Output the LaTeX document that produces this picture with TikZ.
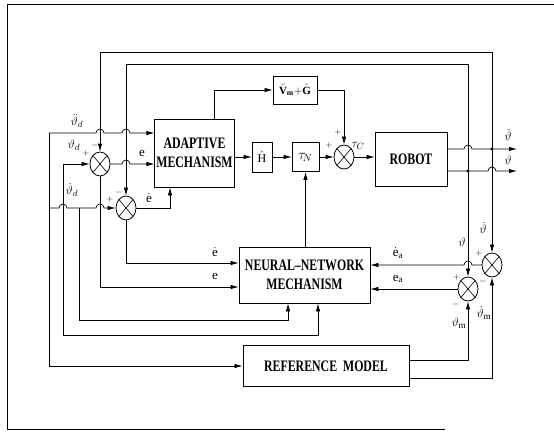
\documentclass[tikz,border=0pt]{standalone}
\usepackage{amsmath, amssymb}
\usepackage{fontspec}
\setmainfont{Liberation Serif}
\newfontfamily\boxfont[FakeStretch=0.74, Ligatures=TeX]{Liberation Serif}
\usepackage{tikz}
\usetikzlibrary{
  arrows.meta,
  positioning,
  shapes.geometric,
  calc
}

\begin{document}
\begin{tikzpicture}[
  x=1pt, y=-1pt,
  line width=0.7pt,
  sig/.style={-{Latex[length=8pt, width=4.4pt]}},
  blk/.style={
    draw, line width=0.9pt, inner sep=1.5pt, align=center,
    font=\boxfont\bfseries\fontsize{16}{19}\selectfont
  },
  sumj/.style={
    draw, ellipse, line width=0.8pt,
    minimum width=20pt, minimum height=24pt, inner sep=0pt,
    path picture={
      \draw[line width=0.6pt]
        ($(path picture bounding box.center)!0.707!(path picture bounding box.north west)$) --
        ($(path picture bounding box.center)!0.707!(path picture bounding box.south east)$)
        ($(path picture bounding box.center)!0.707!(path picture bounding box.north east)$) --
        ($(path picture bounding box.center)!0.707!(path picture bounding box.south west)$);
    }
  },
  lbl/.style={inner sep=0pt, font=\fontsize{13}{15}\selectfont},
  sgn/.style={inner sep=0pt, font=\footnotesize}
]
  \useasboundingbox (0,0) rectangle (554,433);
  \draw[line width=0.6pt] (554,4) -- (7,4) -- (7,429) -- (445,429);

  \node[blk, minimum width=77, minimum height=68] (adapt) at (194.5,153) {ADAPTIVE\\MECHANISM};
  \node[blk, minimum width=44, minimum height=28, font=\bfseries\fontsize{11}{13}\selectfont] (vg) at (295,90)
    {$\hat{\mathbf{V}}_{\mathbf{m}}\mathbf{+}\hat{\mathbf{G}}$};
  \node[blk, minimum width=20, minimum height=30, font=\fontsize{12}{14}\selectfont] (H) at (262,157) {$\hat{\mathrm{H}}$};
  \node[blk, minimum width=27, minimum height=29, font=\fontsize{14}{16}\selectfont] (tauN) at (305.5,157) {$\tau_{\!N}$};
  \node[blk, minimum width=72, minimum height=54] (robot) at (411,159) {ROBOT};
  \node[blk, minimum width=131, minimum height=56] (nn) at (304.5,275) {NEURAL\textendash NETWORK\\MECHANISM};
  \node[blk, minimum width=166, minimum height=41] (ref) at (326,366) {REFERENCE\ \ MODEL};

  \node[sumj] (j1) at (100,164) {};
  \node[sumj] (j2) at (126,208) {};
  \node[sumj] (j5) at (344,157) {};
  \node[sumj] (j3) at (468,289) {};
  \node[sumj] (j4) at (492,265) {};

  \coordinate (pdot) at (492,149);
  \coordinate (qdot) at (468,171);
  \coordinate (outd) at (517,149);
  \coordinate (outq) at (517,171);
  \coordinate (topj1) at (100,52);
  \coordinate (topj2) at (126,64);
  \coordinate (ddd) at (49,133);
  \coordinate (dd) at (63,164);
  \coordinate (dv) at (49,208);
  \coordinate (dvb) at (79,208);
  \coordinate (rowA) at (79,320);
  \coordinate (rowB) at (63,335);
  \coordinate (erow) at (100,287);
  \coordinate (edrow) at (126,263);
  \coordinate (ecor) at (170,208);
  \coordinate (aup) at (214,89);
  \coordinate (rm1) at (409,360);
  \coordinate (rm2) at (409,378);
  \coordinate (nnin1) at ($(nn.south)+(-16.5,0)$);
  \coordinate (nnin2) at ($(nn.south)+(13.5,0)$);

  \draw[sig] (robot.east |- pdot) -- ($(qdot |- pdot)+(-4,0)$) arc[start angle=180, end angle=360, radius=4] -- (outd);
  \draw[sig] (robot.east |- qdot) -- ($(pdot |- qdot)+(-4,0)$) arc[start angle=180, end angle=360, radius=4] -- (outq);
  \fill (pdot) circle (1.6);
  \fill (qdot) circle (1.6);

  \draw[sig] (pdot) -- (pdot |- topj1) -- (topj1) -- (j1);
  \draw[sig] (qdot) -- (qdot |- topj2) -- (topj2) -- (j2);
  \draw[sig] (pdot) -- (j4);
  \draw[sig] (qdot) -- (j3);

  \draw[sig] (ddd) -- ($(j1 |- ddd)+(-4,0)$) arc[start angle=180, end angle=360, radius=4]
    -- ($(j2 |- ddd)+(-4,0)$) arc[start angle=180, end angle=360, radius=4] -- (adapt.west |- ddd);
  \draw[sig] (ddd) -- (ddd |- ref.west) -- (ref.west);

  \draw[sig] (dd) -- (j1);
  \draw[sig] (dd) -- (rowB) -- (nnin2 |- rowB) -- (nnin2);

  \draw[sig] (dv) -- ($(dd |- dv)+(-4,0)$) arc[start angle=180, end angle=360, radius=4]
    -- ($(j1 |- dv)+(-4,0)$) arc[start angle=180, end angle=360, radius=4] -- (j2);
  \draw[sig] (dvb) -- (rowA) -- (nnin1 |- rowA) -- (nnin1);

  \draw[sig] (j1) -- ($(j2 |- j1)+(-4,0)$) arc[start angle=180, end angle=360, radius=4] -- (adapt.west |- j1);
  \draw[sig] (j1) -- (erow) -- (nn.west |- erow);

  \draw[sig] (j2) -- (ecor) -- (ecor |- adapt.south);
  \draw[sig] (j2) -- (edrow) -- (nn.west |- edrow);

  \draw[sig] (aup |- adapt.north) -- (aup |- vg) -- (vg.west);
  \draw[sig] (adapt.east |- H) -- (H.west);
  \draw[sig] (H) -- (tauN);
  \draw[sig] (tauN) -- (j5);
  \draw[sig] (vg.east) -- (vg.east -| j5) -- (j5);
  \draw[sig] (j5) -- (robot.west |- j5);
  \draw[sig] (tauN |- nn.north) -- (tauN);

  \draw[sig] (rm1) -- (j3 |- rm1) -- (j3);
  \draw[sig] (rm2) -- (j4 |- rm2) -- (j4);
  \draw[sig] (j3) -- (nn.east |- j3);
  \draw[sig] (j4) -- ($(j3 |- j4)+(4,0)$) arc[start angle=0, end angle=-180, radius=4] -- (nn.east |- j4);

  \node[lbl] (lddd) at (77,121) {$\ddot{\vartheta}_d$};
  \node[lbl] (ldd) at (74,145) {$\vartheta_d$};
  \node[lbl] (ldv) at (72,190) {$\dot{\vartheta}_d$};
  \node[lbl] (le1) at (142,154) {$\mathrm{e}$};
  \node[lbl] (led1) at (149,198) {$\dot{\mathrm{e}}$};
  \node[lbl] (led2) at (215,252) {$\dot{\mathrm{e}}$};
  \node[lbl] (le2) at (215,276) {$\mathrm{e}$};
  \node[lbl] (ltc) at (358,146) {$\tau_C$};
  \node[lbl] (lod) at (508,135) {$\dot{\vartheta}$};
  \node[lbl] (loq) at (508,160) {$\vartheta$};
  \node[lbl] (lfq) at (462,242) {$\vartheta$};
  \node[lbl] (lfd) at (483,228) {$\dot{\vartheta}$};
  \node[lbl] (lead) at (398,253) {$\dot{\mathrm{e}}_{\mathrm{a}}$};
  \node[lbl] (lea) at (398,279) {$\mathrm{e}_{\mathrm{a}}$};
  \node[lbl] (lm) at (459,323) {$\vartheta_{\mathrm{m}}$};
  \node[lbl] (lmd) at (484,313) {$\dot{\vartheta}_{\mathrm{m}}$};

  \node[sgn] (s1a) at (95,146) {$-$};
  \node[sgn] (s1b) at (86,154) {$+$};
  \node[sgn] (s2a) at (119,192) {$-$};
  \node[sgn] (s2b) at (110,199) {$+$};
  \node[sgn] (s5a) at (329,146) {$+$};
  \node[sgn] (s5b) at (338,133) {$+$};
  \node[sgn] (s4a) at (479,253) {$+$};
  \node[sgn] (s4b) at (483,281) {$-$};
  \node[sgn] (s3a) at (457,277) {$+$};
  \node[sgn] (s3b) at (456,304) {$-$};
\end{tikzpicture}
\end{document}
